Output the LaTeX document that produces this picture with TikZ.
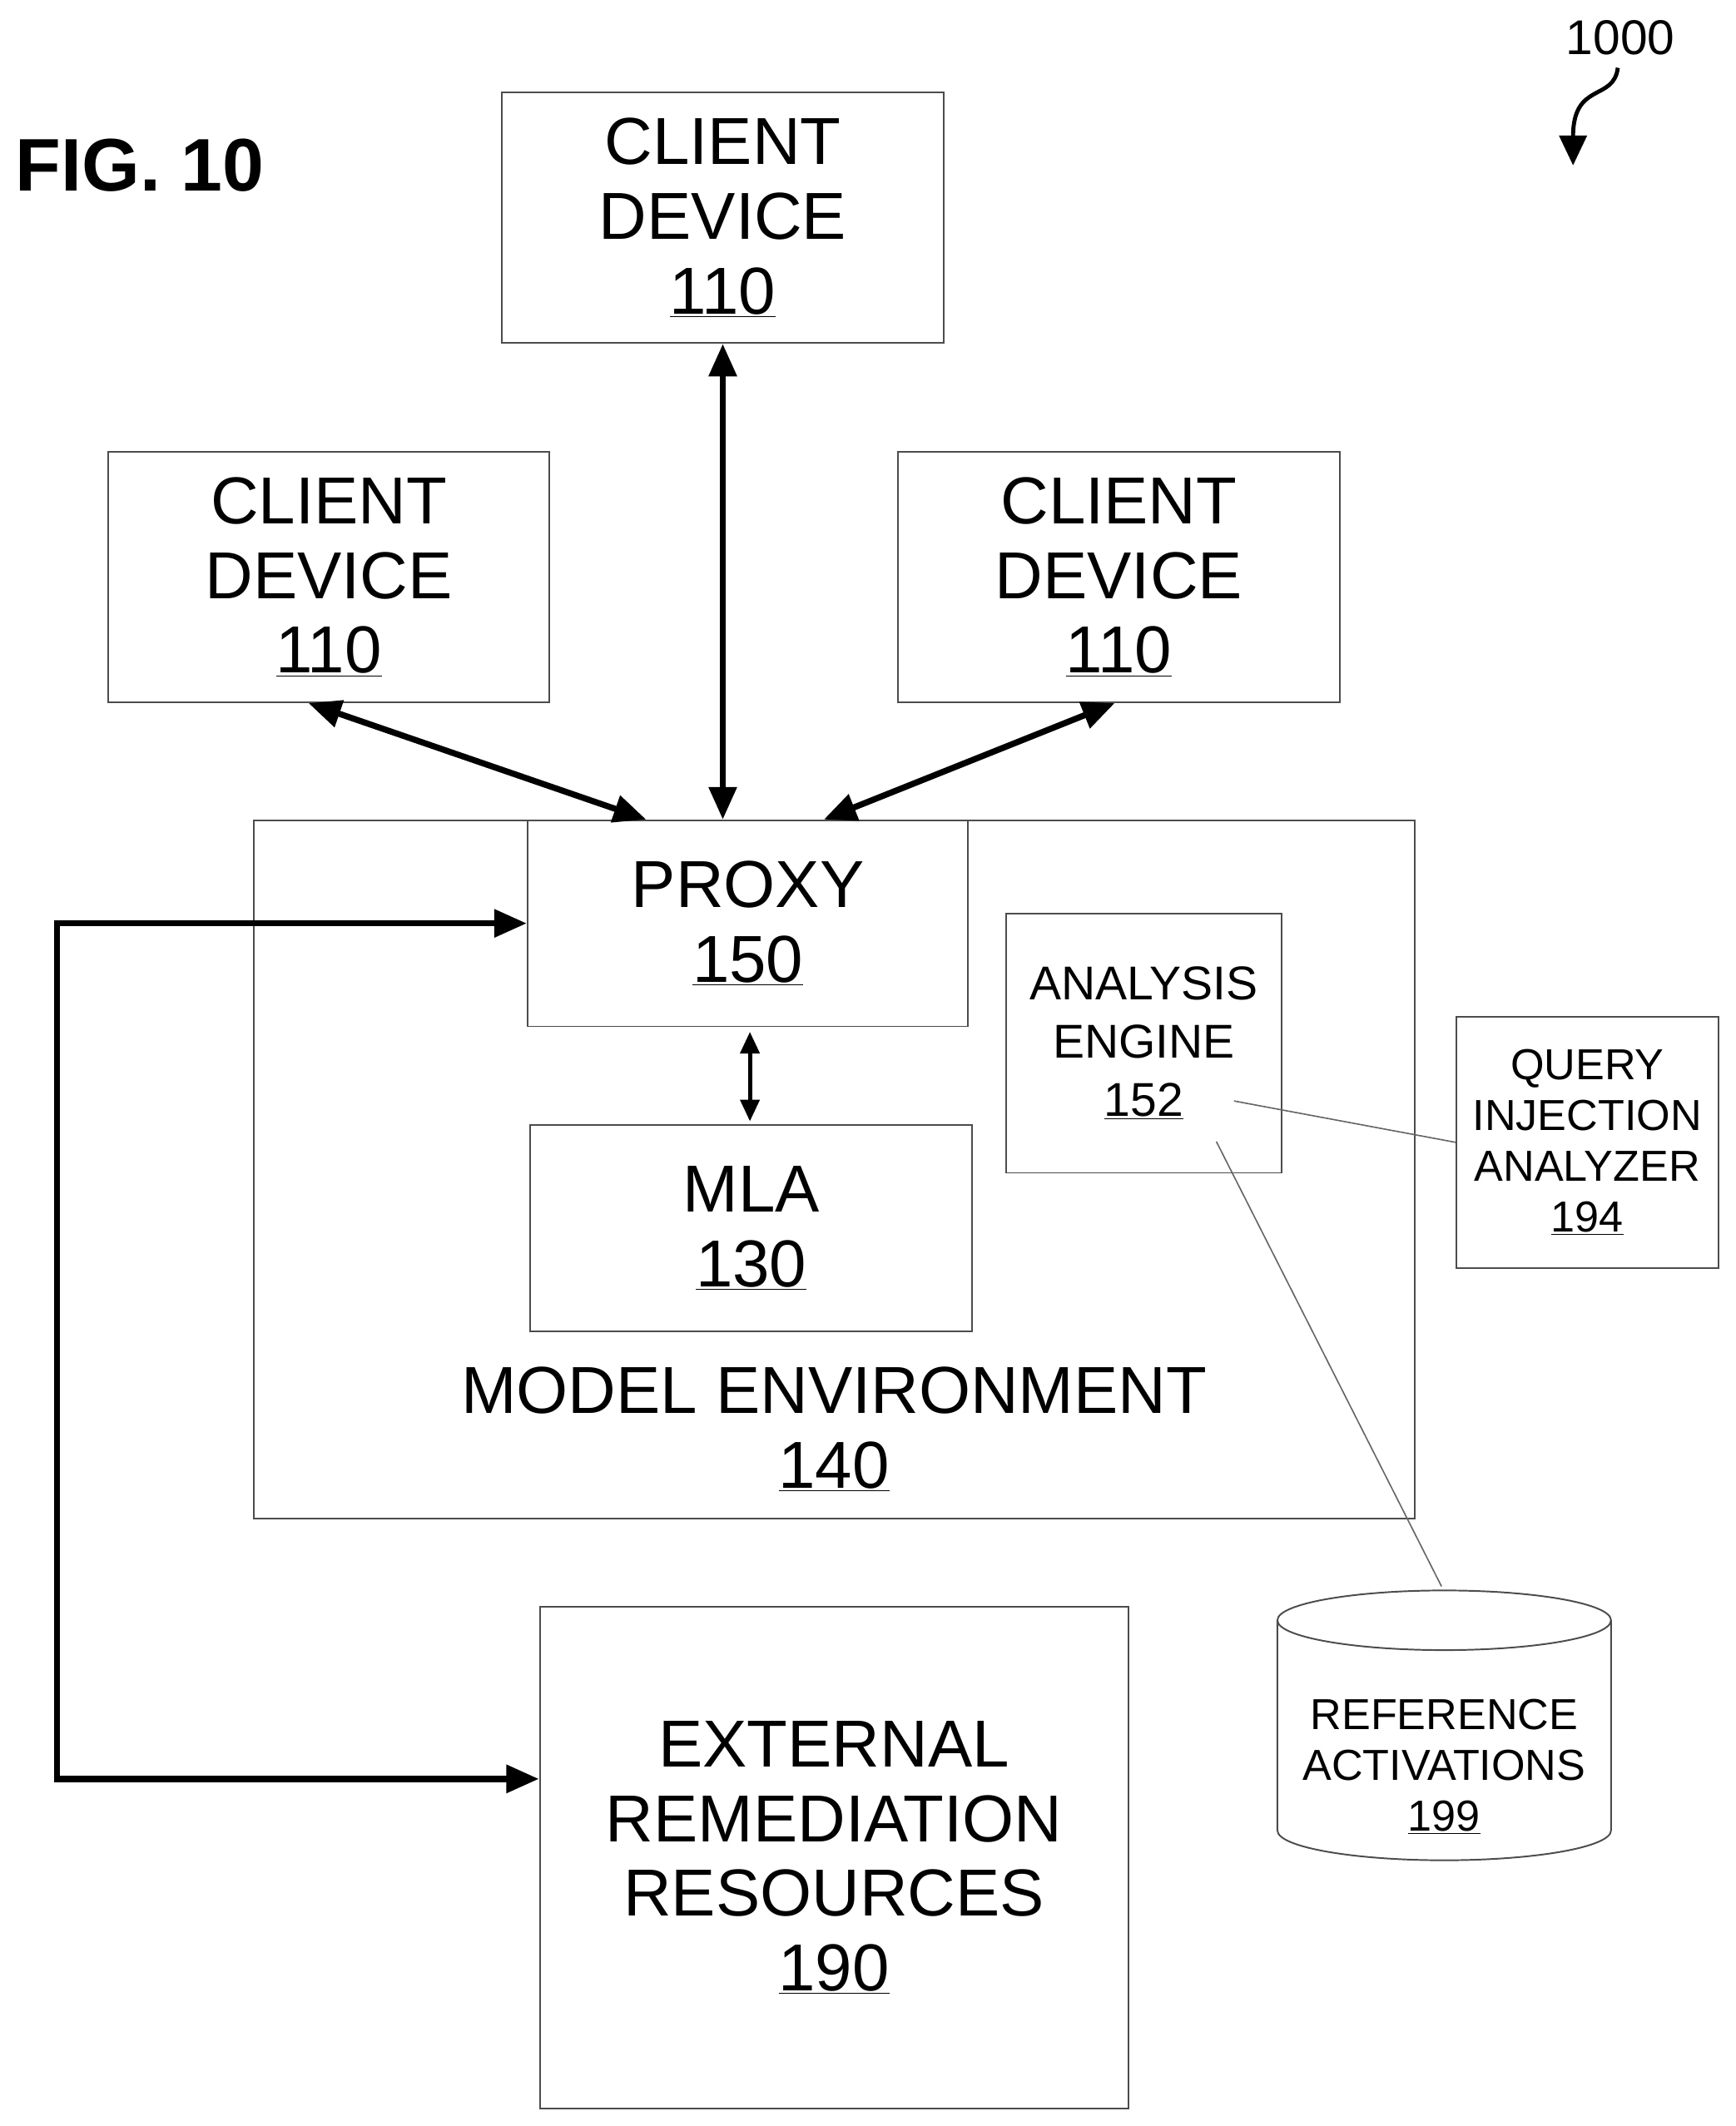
\documentclass[tikz,border=0pt]{standalone}
\usepackage{fontspec}
\setmainfont{Liberation Sans}
\usetikzlibrary{arrows.meta,calc}
\begin{document}
\begin{tikzpicture}[x=1pt,y=-1pt,
  box/.style={draw=black!70,line width=1.2pt,align=center,inner sep=0pt},
  big/.style={font=\fontsize{49}{55}\selectfont},
  mid/.style={font=\fontsize{35}{43}\selectfont},
  sml/.style={font=\fontsize{32}{37.5}\selectfont},
  thk/.style={line width=4.5pt,{Triangle[length=24pt,width=20pt]}-{Triangle[length=24pt,width=20pt]}},
  thin/.style={draw=black!60,line width=1pt}]
\useasboundingbox (0,0) rectangle (1280,1568);
\node[font=\fontsize{55}{60}\selectfont\bfseries,anchor=west] (fig) at (8,122) {FIG. 10};
\node[font=\fontsize{36}{40}\selectfont] (num) at (1195,28) {1000};
\coordinate (sq1) at (1193,50);
\coordinate (sq2) at (1160,122);
\draw[line width=3pt,-{Triangle[length=22pt,width=20pt]}] (sq1) .. controls (1190,75) and (1160,60) .. (sq2);
% clients
\node[box,big,minimum width=326pt,minimum height=185pt] (ct) at (533,160.5) {CLIENT\\DEVICE\\\underline{110}};
\node[box,big,minimum width=325pt,minimum height=185pt] (cl) at (242.5,425.5) {CLIENT\\DEVICE\\\underline{110}};
\node[box,big,minimum width=326pt,minimum height=185pt] (cr) at (825,425.5) {CLIENT\\DEVICE\\\underline{110}};
% model env
\node[box,minimum width=856pt,minimum height=515pt] (env) at (615,862.5) {};
\node[big,align=center] (envl) at (615,1054) {MODEL ENVIRONMENT\\\underline{140}};
\node[box,big,minimum width=325pt,minimum height=152pt] (px) at (551.5,681) {PROXY\\\underline{150}};
\node[box,big,minimum width=326pt,minimum height=152pt] (mla) at (554,906) {MLA\\\underline{130}};
\node[box,mid,minimum width=203pt,minimum height=191pt] (ae) at (843.5,769.5) {ANALYSIS\\ENGINE\\\underline{152}};
\node[box,sml,minimum width=193pt,minimum height=185pt] (qa) at (1170.5,842.5) {QUERY\\INJECTION\\ANALYZER\\\underline{194}};
\node[box,big,minimum width=434pt,minimum height=370pt] (ext) at (615,1370) {EXTERNAL\\REMEDIATION\\RESOURCES\\\underline{190}};
% cylinder
\draw[draw=black!70,line width=1.2pt] (942,1195) -- (942,1350) arc[start angle=180,end angle=360,x radius=123,y radius=-22] -- (1188,1195);
\draw[draw=black!70,line width=1.2pt] (1065,1195) ellipse[x radius=123,y radius=22];
\coordinate (cyl) at (1063,1170);
\node[sml,align=center] (ra) at (1065,1303) {REFERENCE\\ACTIVATIONS\\\underline{199}};
% connectors
\draw[thk] (ct.south) -- (px.north -| ct.south);
\draw[thk] ([xshift=-15pt]cl.south) -- ([xshift=-75pt]px.north);
\draw[thk] ([xshift=-3pt]cr.south) -- ([xshift=56pt]px.north);
\coordinate (pm1) at (553,761);
\coordinate (pm2) at (553,827);
\draw[line width=3pt,{Triangle[length=16pt,width=14pt]}-{Triangle[length=16pt,width=14pt]}] (pm1) -- (pm2);
\coordinate (c1) at (42,681);
\coordinate (c2) at (42,1312);
\draw[thk] (px.west) -- (c1) -- (c2) -- ([yshift=58pt]ext.west);
\coordinate (ae1) at (910,812);
\coordinate (ae2) at (897,842);
\draw[thin] (ae1) -- (qa.west);
\draw[thin] (ae2) -- (cyl);
\end{tikzpicture}
\end{document}
